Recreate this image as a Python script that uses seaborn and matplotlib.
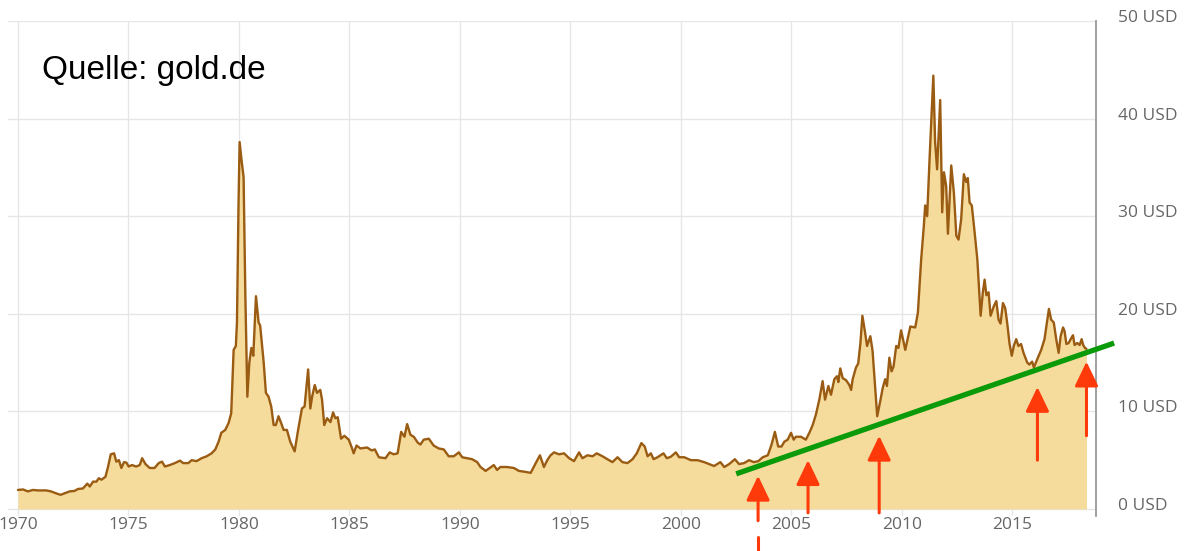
import matplotlib
matplotlib.use("Agg")
import matplotlib.pyplot as plt
import matplotlib.transforms as mtransforms
import seaborn as sns
import pandas as pd

# Silberpreis (USD/oz)
years = [
    1970.0, 1970.23, 1970.45, 1970.68, 1970.9, 1971.28, 1971.5, 1971.73, 1971.93, 1972.11,
    1972.34, 1972.56, 1972.72, 1972.94, 1973.14, 1973.25, 1973.4, 1973.55, 1973.66, 1973.78,
    1973.96, 1974.08, 1974.2, 1974.35, 1974.45, 1974.57, 1974.68, 1974.8, 1974.91, 1975.01,
    1975.16, 1975.35, 1975.51, 1975.62, 1975.77, 1975.96, 1976.18, 1976.37, 1976.52, 1976.65,
    1976.87, 1977.1, 1977.33, 1977.48, 1977.71, 1977.86, 1978.08, 1978.31, 1978.54, 1978.76,
    1978.93, 1979.08, 1979.2, 1979.38, 1979.53, 1979.65, 1979.76, 1979.86, 1979.91, 1979.98,
    1980.03, 1980.13, 1980.21, 1980.29, 1980.38, 1980.47, 1980.56, 1980.65, 1980.77, 1980.89,
    1980.96, 1981.12, 1981.22, 1981.34, 1981.46, 1981.57, 1981.67, 1981.79, 1981.91, 1982.02,
    1982.17, 1982.32, 1982.52, 1982.67, 1982.85, 1982.97, 1983.13, 1983.23, 1983.31, 1983.43,
    1983.53, 1983.68, 1983.76, 1983.86, 1983.99, 1984.14, 1984.26, 1984.36, 1984.47, 1984.62,
    1984.77, 1984.97, 1985.12, 1985.19, 1985.32, 1985.5, 1985.8, 1986.0, 1986.15, 1986.33,
    1986.63, 1986.82, 1987.0, 1987.18, 1987.34, 1987.49, 1987.61, 1987.76, 1987.91, 1988.09,
    1988.21, 1988.36, 1988.59, 1988.81, 1989.04, 1989.27, 1989.49, 1989.72, 1989.95, 1990.1,
    1990.33, 1990.55, 1990.78, 1990.93, 1991.16, 1991.35, 1991.53, 1991.68, 1991.83, 1992.13,
    1992.44, 1992.67, 1992.97, 1993.2, 1993.43, 1993.62, 1993.8, 1993.95, 1994.1, 1994.26,
    1994.48, 1994.71, 1994.94, 1995.16, 1995.39, 1995.54, 1995.77, 1996.0, 1996.19, 1996.45,
    1996.67, 1996.9, 1997.13, 1997.35, 1997.58, 1997.81, 1998.0, 1998.21, 1998.36, 1998.49,
    1998.64, 1998.76, 1998.94, 1999.21, 1999.36, 1999.54, 1999.77, 1999.92, 2000.15, 2000.45,
    2000.75, 2001.05, 2001.28, 2001.5, 2001.78, 2001.96, 2002.18, 2002.44, 2002.63, 2002.86,
    2003.08, 2003.29, 2003.5, 2003.7, 2003.93, 2004.1, 2004.25, 2004.4, 2004.55, 2004.68,
    2004.83, 2004.98, 2005.1, 2005.2, 2005.43, 2005.65, 2005.81, 2005.96, 2006.11, 2006.26,
    2006.41, 2006.52, 2006.67, 2006.79, 2006.94, 2007.06, 2007.12, 2007.21, 2007.32, 2007.47,
    2007.62, 2007.7, 2007.77, 2007.92, 2008.02, 2008.12, 2008.21, 2008.33, 2008.42, 2008.57,
    2008.67, 2008.75, 2008.88, 2009.03, 2009.13, 2009.24, 2009.32, 2009.43, 2009.53, 2009.62,
    2009.74, 2009.84, 2009.96, 2010.15, 2010.38, 2010.6, 2010.72, 2010.87, 2010.99, 2011.05,
    2011.14, 2011.25, 2011.42, 2011.5, 2011.59, 2011.73, 2011.82, 2011.9, 2012.0, 2012.08,
    2012.23, 2012.35, 2012.46, 2012.56, 2012.68, 2012.8, 2012.91, 2012.98, 2013.06, 2013.16,
    2013.29, 2013.41, 2013.56, 2013.66, 2013.74, 2013.82, 2013.92, 2014.01, 2014.16, 2014.27,
    2014.37, 2014.46, 2014.57, 2014.67, 2014.76, 2014.87, 2014.97, 2015.06, 2015.17, 2015.27,
    2015.39, 2015.5, 2015.67, 2015.76, 2015.89, 2015.97, 2016.15, 2016.3, 2016.45, 2016.56,
    2016.65, 2016.75, 2016.87, 2016.98, 2017.09, 2017.18, 2017.29, 2017.36, 2017.44, 2017.54,
    2017.66, 2017.74, 2017.81, 2017.93, 2018.04, 2018.13, 2018.2, 2018.28, 2018.35,
]
prices = [
    1.95, 2.0, 1.8, 1.95, 1.9, 1.9, 1.8, 1.6, 1.45, 1.6,
    1.8, 1.85, 2.05, 2.1, 2.6, 2.3, 2.8, 2.8, 3.15, 3.0,
    3.3, 4.35, 5.6, 5.7, 4.85, 5.0, 4.2, 4.8, 4.75, 4.35,
    4.5, 4.35, 4.5, 5.2, 4.6, 4.2, 4.2, 4.7, 4.85, 4.35,
    4.5, 4.7, 4.95, 4.7, 4.7, 5.0, 4.9, 5.2, 5.4, 5.7,
    6.1, 6.9, 7.8, 8.1, 8.8, 9.8, 16.3, 16.7, 19.1, 31.1,
    37.6, 35.5, 34.0, 21.8, 11.5, 15.0, 16.5, 15.7, 21.8, 19.1,
    18.8, 15.0, 11.9, 11.5, 10.5, 8.6, 8.6, 9.5, 8.8, 8.1,
    8.1, 6.9, 5.9, 8.0, 10.3, 10.5, 14.3, 10.3, 11.5, 12.7,
    11.9, 12.2, 11.2, 8.6, 9.3, 8.9, 9.9, 9.3, 9.4, 7.2,
    7.5, 7.1, 6.2, 5.7, 6.5, 6.2, 6.3, 6.0, 6.1, 5.3,
    5.2, 5.8, 5.6, 5.7, 7.9, 7.4, 8.7, 7.6, 7.4, 6.8,
    6.6, 7.1, 7.2, 6.5, 6.2, 6.1, 5.4, 5.4, 5.8, 5.3,
    5.2, 5.1, 4.8, 4.3, 3.9, 4.2, 4.5, 4.0, 4.3, 4.3,
    4.2, 3.9, 3.8, 3.7, 4.7, 5.5, 4.3, 5.0, 5.5, 5.8,
    5.6, 5.7, 5.2, 4.9, 5.8, 5.2, 5.5, 5.4, 5.7, 5.4,
    5.1, 4.8, 5.3, 4.8, 4.7, 5.1, 5.7, 6.75, 6.4, 5.4,
    5.7, 5.1, 5.3, 5.7, 5.2, 5.35, 5.8, 5.3, 5.3, 5.0,
    5.0, 4.8, 4.6, 4.4, 4.8, 4.3, 4.6, 5.1, 4.6, 4.7,
    5.0, 4.8, 4.9, 5.3, 5.5, 6.6, 7.9, 6.4, 6.4, 6.9,
    7.1, 7.8, 7.1, 7.4, 7.4, 7.1, 7.8, 8.6, 9.7, 11.2,
    13.1, 11.2, 12.6, 11.7, 13.3, 13.6, 13.0, 14.4, 13.4, 13.2,
    12.7, 12.2, 13.3, 14.5, 14.9, 17.0, 19.8, 18.1, 16.7, 17.7,
    16.2, 13.6, 9.5, 11.2, 12.4, 13.3, 12.6, 15.5, 14.1, 14.6,
    16.7, 16.5, 18.3, 16.3, 18.7, 18.6, 20.1, 25.6, 29.0, 31.1,
    30.0, 35.9, 44.4, 37.6, 34.8, 41.9, 30.4, 34.5, 33.1, 28.2,
    35.2, 32.4, 28.0, 27.6, 29.7, 34.3, 33.5, 33.9, 31.4, 31.1,
    28.3, 25.6, 19.8, 22.2, 23.5, 21.9, 22.2, 19.8, 20.8, 21.3,
    19.4, 19.0, 21.1, 20.6, 19.1, 16.9, 15.7, 16.7, 17.4, 16.7,
    16.9, 16.0, 15.0, 14.8, 15.1, 14.5, 15.5, 16.3, 17.4, 19.1,
    20.5, 19.4, 19.1, 17.4, 16.0, 17.7, 18.6, 18.2, 16.9, 17.0,
    17.5, 17.8, 16.8, 17.0, 16.8, 17.4, 16.8, 16.5, 16.4,
]

# green support line (start / end)
trend_x = [2002.5, 2019.6]
trend_y = [3.6, 17.0]

# red arrows: x, tail, tip
arrow_x = [2003.49, 2005.75, 2008.97, 2016.13, 2018.35]
arrow_tail = [-1.2, -0.4, -0.4, 5.0, 7.5]
arrow_tip = [3.4, 5.0, 7.5, 12.5, 15.1]

x_ticks = [1970, 1975, 1980, 1985, 1990, 1995, 2000, 2005, 2010, 2015]
y_ticks = [0, 10, 20, 30, 40, 50]
y_labels = [f"{v} USD" for v in y_ticks]

df = pd.DataFrame({"Jahr": years, "Preis": prices})

sns.set_style("white")
plt.rcParams["font.family"] = ["Open Sans", "DejaVu Sans"]

fig = plt.figure(figsize=(11.91, 5.51), dpi=100)
ax = fig.add_axes([8 / 1191, 1 - 516 / 551, (1096 - 8) / 1191, (516 - 21) / 551])

ax.fill_between(df["Jahr"], 0, df["Preis"], color="#f6dc9c", lw=0, zorder=2)
sns.lineplot(data=df, x="Jahr", y="Preis", color="#9a5b12", linewidth=1.7, ax=ax, zorder=3)

# trend line
ax.plot(trend_x, trend_y, color="#0a9a0a", linewidth=3.8, solid_capstyle="butt",
        clip_on=False, zorder=5)

# arrows
for x, t0, t1 in zip(arrow_x, arrow_tail, arrow_tip):
    ax.annotate("", xy=(x, t1), xytext=(x, t0), annotation_clip=False,
                arrowprops=dict(arrowstyle="-|>,head_length=0.75,head_width=0.36",
                                color="#ff3a0a", lw=2.2, mutation_scale=20,
                                shrinkA=0, shrinkB=0), zorder=6)
# stray piece of the first arrow below the axis
ax.plot([arrow_x[0], arrow_x[0]], [-2.9, -4.4], color="#ff3a0a", lw=2.2,
        clip_on=False, zorder=6)

ax.set_xlim(1969.55, 2018.78)
ax.set_ylim(-0.72, 50)
ax.set_xticks(x_ticks)
ax.set_yticks(y_ticks)
ax.set_yticklabels(y_labels)
ax.yaxis.tick_right()
ax.set_xlabel("")
ax.set_ylabel("")
ax.grid(True, color="#e6e6e6", linewidth=1.0)
ax.set_axisbelow(True)
ax.tick_params(axis="both", length=0, labelsize=12.5, labelcolor="#666666")
ax.tick_params(axis="x", pad=1)
ax.tick_params(axis="y", pad=16)

for s in ["left", "top", "bottom"]:
    ax.spines[s].set_visible(False)
ax.spines["right"].set_color("#999999")
ax.spines["right"].set_linewidth(1.3)

# y labels sit a little above their gridlines
offset = mtransforms.ScaledTranslation(0, 5 / 100, fig.dpi_scale_trans)
for lab in ax.get_yticklabels():
    lab.set_transform(lab.get_transform() + offset)

ax.text(42 / 1191, 1 - 70 / 551, "Quelle: gold.de", transform=fig.transFigure,
        fontsize=24, family="Liberation Sans", color="black", va="center", ha="left")

fig.savefig("out.png", dpi=100)
